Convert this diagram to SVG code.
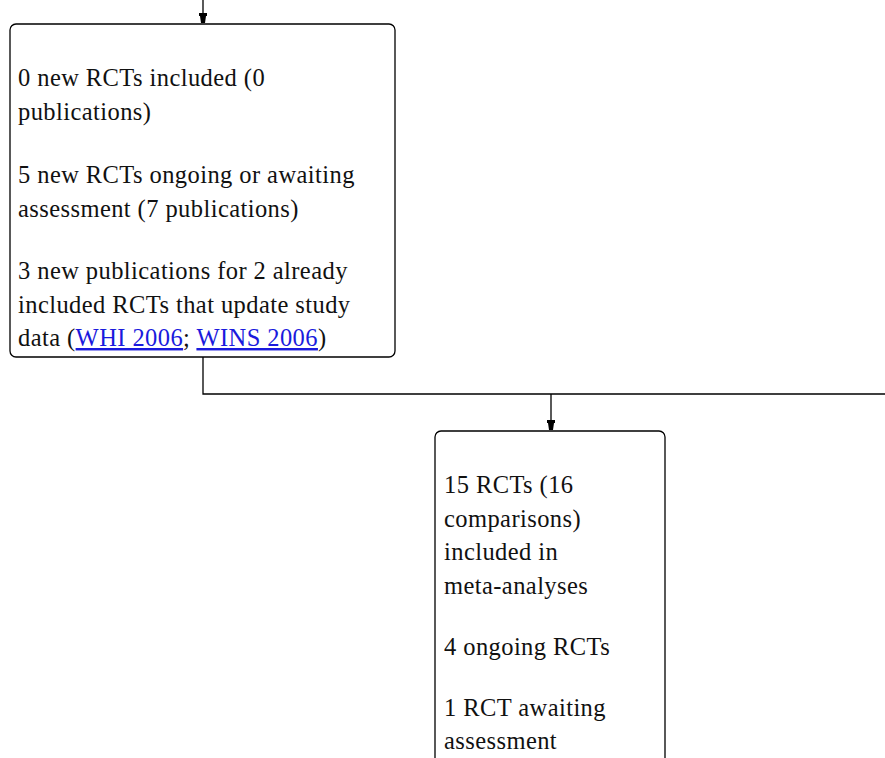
<svg xmlns="http://www.w3.org/2000/svg" width="885" height="758" viewBox="0 0 885 758">
<style>
.box{fill:#fff;stroke:#000;stroke-width:1.3}
.t{font-family:"Liberation Serif","Times New Roman",serif;font-size:24.5px;letter-spacing:0.42px;fill:#111}
.lk{fill:#1a1add;text-decoration:underline}
.c{fill:none;stroke:#000;stroke-width:1.3}
</style>
<defs>
<marker id="ah" markerWidth="12" markerHeight="10" refX="11" refY="5" orient="auto" markerUnits="userSpaceOnUse">
<path d="M1,1 L4,1 L4,2 L11,3 L11,7 L4,8 L4,9 L1,9 Z" fill="#000"/>
</marker>
</defs>
<rect width="885" height="758" fill="#fff"/>
<g id="connectors">
<path class="c" d="M203,0 L203,23" marker-end="url(#ah)"/>
<path class="c" d="M203,357 L203,394 L885,394"/>
<path class="c" d="M551,394 L551,430" marker-end="url(#ah)"/>
</g>
<g id="node1">
<rect class="box" x="10" y="24" width="385" height="333" rx="6"/>
<text class="t" x="18" y="86">0 new RCTs included (0</text>
<text class="t" x="18" y="120">publications)</text>
<text class="t" x="18" y="183">5 new RCTs ongoing or awaiting</text>
<text class="t" x="18" y="217">assessment (7 publications)</text>
<text class="t" x="18" y="279">3 new publications for 2 already</text>
<text class="t" x="18" y="313">included RCTs that update study</text>
<text class="t" x="18" y="346">data (<tspan class="lk">WHI 2006</tspan>; <tspan class="lk">WINS 2006</tspan>)</text>
</g>
<g id="node2">
<rect class="box" x="435" y="431" width="230" height="340" rx="6"/>
<text class="t" x="444" y="493">15 RCTs (16</text>
<text class="t" x="444" y="527">comparisons)</text>
<text class="t" x="444" y="560">included in</text>
<text class="t" x="444" y="594">meta-analyses</text>
<text class="t" x="444" y="655">4 ongoing RCTs</text>
<text class="t" x="444" y="716">1 RCT awaiting</text>
<text class="t" x="444" y="749">assessment</text>
</g>
</svg>
